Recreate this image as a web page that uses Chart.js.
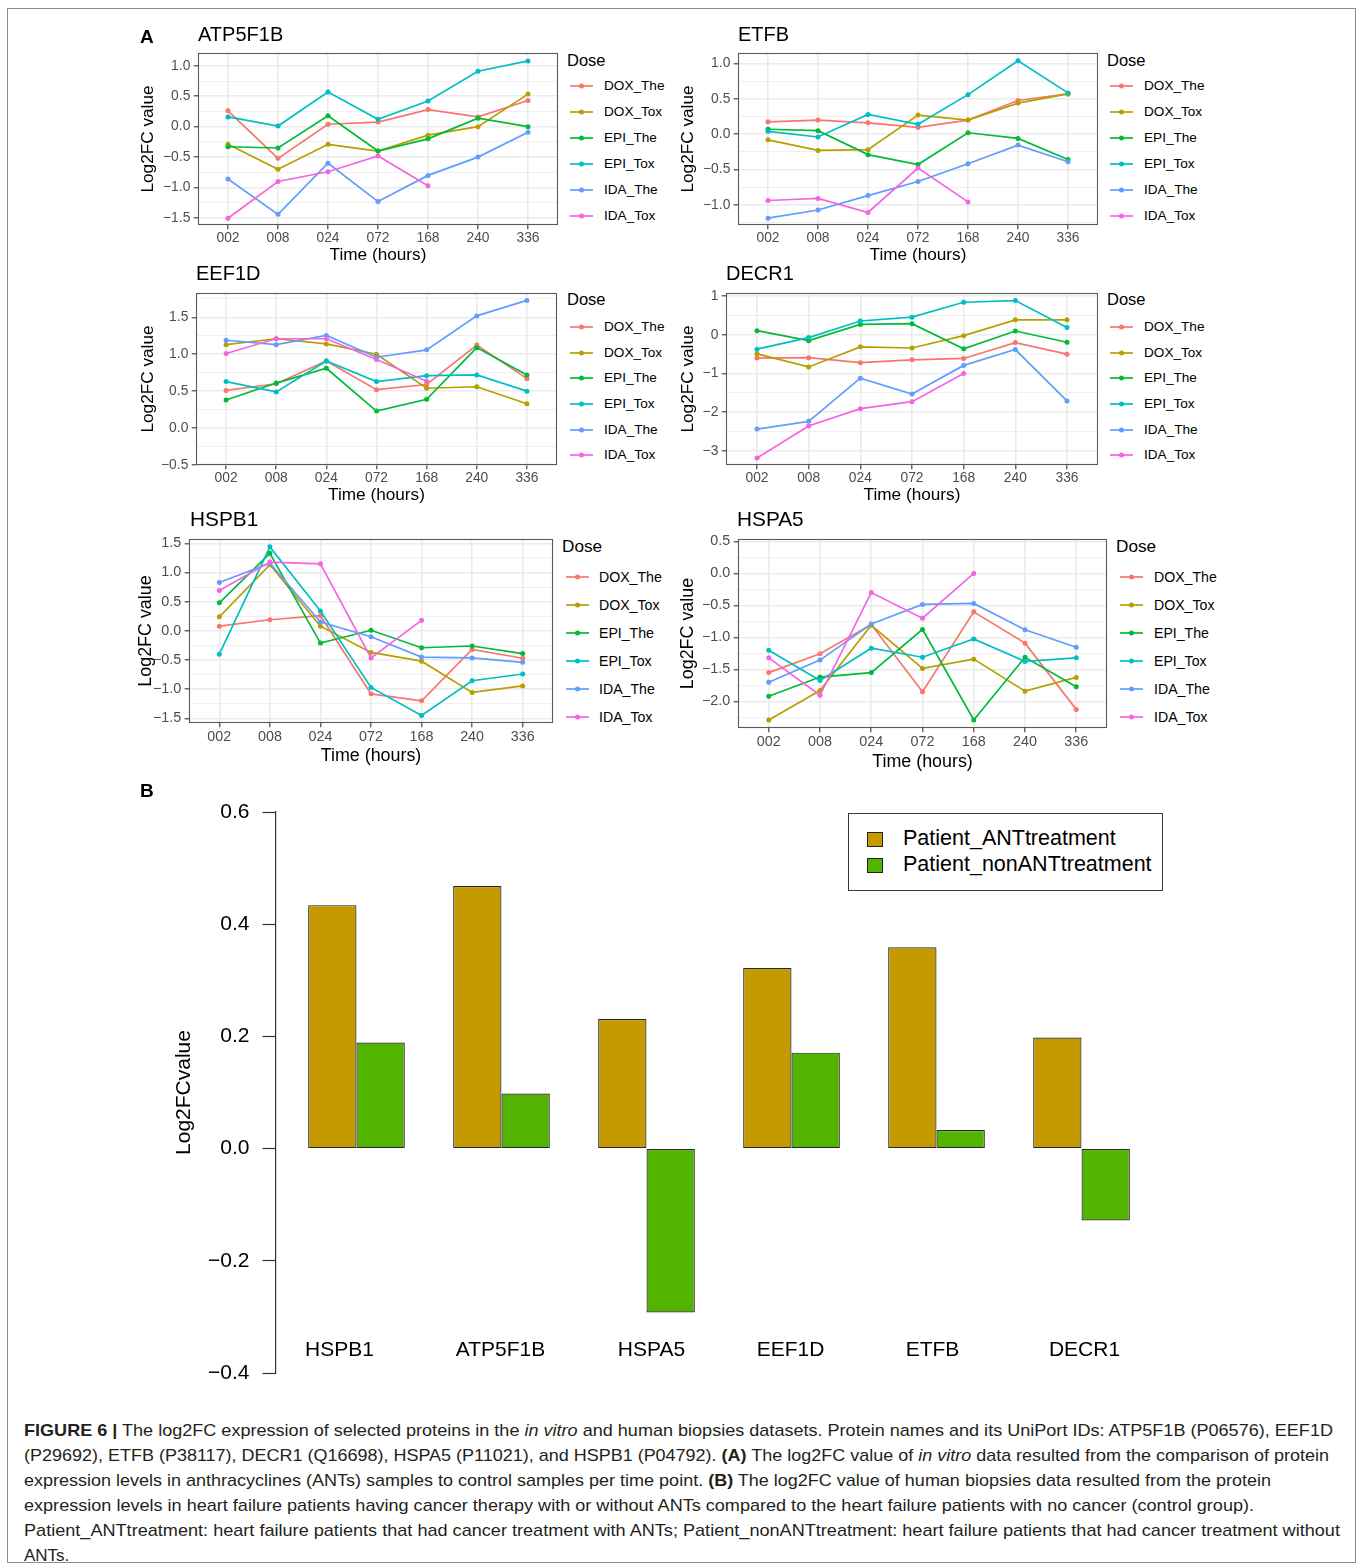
<!DOCTYPE html>
<html>
<head>
<meta charset="utf-8">
<title>Figure 6 – log2FC of selected proteins</title>
<script src="https://cdn.jsdelivr.net/npm/chart.js"></script>
<style>
  html, body { margin: 0; padding: 0; background: #fff; }
  body { position: relative; width: 1360px; height: 1568px; overflow: hidden;
         font-family: "Liberation Sans", Arial, Helvetica, sans-serif; color: #000; }
  #frame { position: absolute; left: 7px; top: 8px; width: 1349px; height: 1555px;
           box-sizing: border-box; border: 1px solid #8c8c8c; }
  canvas { position: absolute; display: block; }
  .t { position: absolute; white-space: nowrap; line-height: 1; }
  .cap { position: absolute; left: 24px; white-space: nowrap; font-size: 17px; line-height: 1;
         color: #231f20; transform-origin: 0 50%; }
  .legB { position: absolute; box-sizing: border-box; border: 1px solid #3a3a3a; background: #fff; }
  .swB { position: absolute; box-sizing: border-box; border: 1px solid #222; }
</style>
</head>
<body>
<div id="frame"></div>
<script>
// ---------- Panel A: in vitro time course ----------
const timeLabels = ['002', '008', '024', '072', '168', '240', '336'];
const doseGroups = ['DOX_The', 'DOX_Tox', 'EPI_The', 'EPI_Tox', 'IDA_The', 'IDA_Tox'];
const doseColors = ['#F8766D', '#B79F00', '#00BA38', '#00BFC4', '#619CFF', '#F564E3'];

// log2FC per dose group (rows follow doseGroups; IDA_Tox ends at 168 h)
const atp5f1bValues = [
  [0.26, -0.52, 0.04, 0.075, 0.28, 0.16, 0.43],
  [-0.29, -0.70, -0.29, -0.40, -0.14, 0.00, 0.535],
  [-0.33, -0.35, 0.18, -0.40, -0.20, 0.14, 0.00],
  [0.16, 0.01, 0.57, 0.12, 0.42, 0.91, 1.08],
  [-0.86, -1.44, -0.60, -1.23, -0.80, -0.50, -0.09],
  [-1.505, -0.90, -0.74, -0.48, -0.97]
];
const etfbValues = [
  [0.175, 0.20, 0.16, 0.095, 0.20, 0.477, 0.57],
  [-0.08, -0.23, -0.22, 0.27, 0.20, 0.44, 0.57],
  [0.07, 0.05, -0.29, -0.43, 0.02, -0.06, -0.36],
  [0.04, -0.04, 0.28, 0.14, 0.56, 1.04, 0.585],
  [-1.19, -1.075, -0.87, -0.67, -0.42, -0.155, -0.39],
  [-0.94, -0.91, -1.11, -0.48, -0.96]
];
const eef1dValues = [
  [0.51, 0.60, 0.91, 0.52, 0.59, 1.125, 0.67],
  [1.13, 1.21, 1.14, 1.00, 0.54, 0.56, 0.33],
  [0.38, 0.61, 0.81, 0.23, 0.39, 1.09, 0.72],
  [0.63, 0.49, 0.91, 0.63, 0.71, 0.72, 0.50],
  [1.19, 1.13, 1.255, 0.96, 1.06, 1.52, 1.73],
  [1.01, 1.21, 1.21, 0.93, 0.635]
];
const decr1Values = [
  [-0.60, -0.59, -0.72, -0.645, -0.61, -0.20, -0.50],
  [-0.49, -0.83, -0.31, -0.34, -0.02, 0.39, 0.39],
  [0.11, -0.15, 0.27, 0.29, -0.36, 0.10, -0.19],
  [-0.37, -0.07, 0.36, 0.46, 0.845, 0.89, 0.19],
  [-2.44, -2.24, -1.12, -1.53, -0.79, -0.38, -1.71],
  [-3.19, -2.36, -1.91, -1.73, -1.00]
];
const hspb1Values = [
  [0.08, 0.19, 0.26, -1.08, -1.20, -0.32, -0.47],
  [0.24, 1.135, 0.08, -0.37, -0.52, -1.055, -0.945],
  [0.48, 1.33, -0.21, 0.01, -0.29, -0.26, -0.39],
  [-0.40, 1.44, 0.34, -0.97, -1.45, -0.855, -0.74],
  [0.83, 1.16, 0.15, -0.10, -0.45, -0.465, -0.54],
  [0.69, 1.18, 1.15, -0.465, 0.18]
];
const hspa5Values = [
  [-1.55, -1.255, -0.80, -1.85, -0.60, -1.09, -2.125],
  [-2.29, -1.83, -0.81, -1.485, -1.34, -1.84, -1.625],
  [-1.92, -1.62, -1.55, -0.875, -2.29, -1.31, -1.77],
  [-1.20, -1.675, -1.17, -1.31, -1.025, -1.375, -1.32],
  [-1.70, -1.355, -0.79, -0.485, -0.47, -0.88, -1.155],
  [-1.32, -1.905, -0.30, -0.70, 0.00]
];

// y-axis breaks of each protein panel
const atp5f1bTicks = [-1.5, -1.0, -0.5, 0, 0.5, 1.0];
const etfbTicks = [-1.0, -0.5, 0, 0.5, 1.0];
const eef1dTicks = [-0.5, 0, 0.5, 1.0, 1.5];
const decr1Ticks = [-3, -2, -1, 0, 1];
const hspb1Ticks = [-1.5, -1.0, -0.5, 0, 0.5, 1.0, 1.5];
const hspa5Ticks = [-2.0, -1.5, -1.0, -0.5, 0, 0.5];

// ---------- Panel B: human biopsies ----------
const biopsyProteins = ['HSPB1', 'ATP5F1B', 'HSPA5', 'EEF1D', 'ETFB', 'DECR1'];
const biopsySeries = ['Patient_ANTtreatment', 'Patient_nonANTtreatment'];
const antTreatment = [0.434, 0.468, 0.231, 0.322, 0.359, 0.198];
const nonAntTreatment = [0.189, 0.098, -0.292, 0.171, 0.033, -0.128];
const biopsyTicks = [-0.4, -0.2, 0, 0.2, 0.4, 0.6];
const biopsyColors = ['#C49A00', '#53B400'];

// ---------- helpers ----------
const FONT = '"Liberation Sans", Arial, Helvetica, sans-serif';
const SVGNS = 'http://www.w3.org/2000/svg';

function fmtTick(v, dec) {
  return (v < 0 ? '\u2212' : '') + Math.abs(v).toFixed(dec);
}

function addText(str, x, cy, size, style) {
  const d = document.createElement('div');
  d.className = 't';
  d.textContent = str;
  d.style.left = x + 'px';
  d.style.top = (cy - 0.49 * size) + 'px';
  d.style.fontSize = size + 'px';
  if (style) Object.assign(d.style, style);
  document.body.appendChild(d);
  return d;
}

function makeCanvas(x, y, w, h) {
  const cv = document.createElement('canvas');
  cv.width = w; cv.height = h;
  cv.style.left = x + 'px'; cv.style.top = y + 'px';
  cv.style.width = w + 'px'; cv.style.height = h + 'px';
  document.body.appendChild(cv);
  return cv;
}

// ggplot-style minor breaks: midpoints of the (extended) major breaks inside the limits
function minorBreaks(major, lo, hi) {
  const step = major[1] - major[0];
  const ext = major.slice();
  if (lo < ext[0]) ext.unshift(ext[0] - step);
  if (hi > ext[ext.length - 1]) ext.push(ext[ext.length - 1] + step);
  const out = [];
  for (let i = 0; i < ext.length - 1; i++) {
    const m = Math.round((ext[i] + ext[i + 1]) / 2 * 1e6) / 1e6;
    if (m >= lo && m <= hi) out.push(m);
  }
  return out;
}

// panel outline drawn on top of the data, as in theme_bw
const panelFrame = {
  id: 'panelFrame',
  afterDatasetsDraw(chart) {
    const a = chart.chartArea, ctx = chart.ctx;
    ctx.save();
    ctx.strokeStyle = '#5a5a5a';
    ctx.lineWidth = 1.1;
    ctx.strokeRect(a.left + 0.5, a.top + 0.5, a.right - a.left - 1, a.bottom - a.top - 1);
    ctx.restore();
  }
};

// ---------- layout of the six time-course panels ----------
const legendRows = {
  r1: [86, 112, 138, 164, 190, 216],
  r2: [327, 353, 378, 404, 430, 455],
  r3: [577, 605, 633, 661, 689, 717]
};
const panelLayout = [
  { name: 'ATP5F1B', values: atp5f1bValues, ticks: atp5f1bTicks, dec: 1, yMin: -1.615, yMax: 1.21,
    box: [198, 53, 558, 225], titleX: 198, titleY: 34, yTitleX: 148, xTickY: 238.5, xTitleY: 255, s: 1,
    legend: { x: 567, y: 60, sx: 570, tx: 604, ys: legendRows.r1 } },
  { name: 'ETFB', values: etfbValues, ticks: etfbTicks, dec: 1, yMin: -1.287, yMax: 1.15,
    box: [738, 53, 1098, 225], titleX: 738, titleY: 34, yTitleX: 688, xTickY: 238.5, xTitleY: 255, s: 1,
    legend: { x: 1107, y: 60, sx: 1110, tx: 1144, ys: legendRows.r1 } },
  { name: 'EEF1D', values: eef1dValues, ticks: eef1dTicks, dec: 1, yMin: -0.5, yMax: 1.83,
    box: [196, 293, 557, 465], titleX: 196, titleY: 273, yTitleX: 148, xTickY: 478, xTitleY: 495, s: 1,
    legend: { x: 567, y: 299, sx: 570, tx: 604, ys: legendRows.r2 } },
  { name: 'DECR1', values: decr1Values, ticks: decr1Ticks, dec: 0, yMin: -3.37, yMax: 1.085,
    box: [726, 293, 1098, 465], titleX: 726, titleY: 273, yTitleX: 688, xTickY: 478, xTitleY: 495, s: 1,
    legend: { x: 1107, y: 299, sx: 1110, tx: 1144, ys: legendRows.r2 } },
  { name: 'HSPB1', values: hspb1Values, ticks: hspb1Ticks, dec: 1, yMin: -1.58, yMax: 1.575,
    box: [189, 539, 553, 723], titleX: 190, titleY: 519, yTitleX: 146, xTickY: 737, xTitleY: 756, s: 1.04,
    legend: { x: 562, y: 546, sx: 566, tx: 599, ys: legendRows.r3 } },
  { name: 'HSPA5', values: hspa5Values, ticks: hspa5Ticks, dec: 1, yMin: -2.416, yMax: 0.5375,
    box: [738, 539, 1107, 728], titleX: 737, titleY: 519, yTitleX: 688, xTickY: 742, xTitleY: 762, s: 1.04,
    legend: { x: 1116, y: 546, sx: 1120, tx: 1154, ys: legendRows.r3 } }
];

function drawPanel(p) {
  const Wy = 64, Hx = 46, padT = 14, padR = 6;
  const [L, T, R, B] = p.box;
  const cx = L - Wy, cy = T - padT;
  const cw = R - L + Wy + padR, ch = B - T + padT + Hx;
  const cv = makeCanvas(cx, cy, cw, ch);

  const tickSize = 13.8 * p.s, axisTitleSize = 17.2 * p.s;
  const tickFont = { family: FONT, size: tickSize };
  const titleFont = { family: FONT, size: axisTitleSize };
  const lh = axisTitleSize * 1.2, tickLh = tickSize * 1.2;
  const major = p.ticks;
  const minor = minorBreaks(major, p.yMin, p.yMax);
  const isMajor = v => major.includes(v);

  new Chart(cv, {
    type: 'line',
    data: {
      datasets: doseGroups.map((g, i) => ({
        label: g,
        data: p.values[i].map((v, k) => ({ x: k, y: v })),
        borderColor: doseColors[i],
        backgroundColor: doseColors[i],
        borderWidth: 1.7,
        pointRadius: 2.5,
        pointBorderWidth: 0,
        pointHoverRadius: 2.5,
        tension: 0,
        fill: false,
        order: doseGroups.length - i
      }))
    },
    options: {
      responsive: false, animation: false, devicePixelRatio: 1, events: [],
      layout: { padding: { left: 0, top: padT, right: padR, bottom: 0 } },
      plugins: { legend: { display: false }, tooltip: { enabled: false } },
      scales: {
        x: {
          type: 'linear', offset: false, min: -0.6, max: timeLabels.length - 0.4,
          afterBuildTicks: ax => { ax.ticks = timeLabels.map((t, k) => ({ value: k })); },
          afterFit: ax => { ax.height = Hx; },
          ticks: { autoSkip: false, maxRotation: 0, callback: v => timeLabels[v],
                   font: tickFont, color: '#4D4D4D', padding: p.xTickY - B - 4.3 - tickLh / 2 },
          grid: { color: '#EBEBEB', lineWidth: 1.6, tickColor: '#333333', tickLength: 4.3, tickWidth: 1.1 },
          border: { display: false },
          title: { display: true, text: 'Time (hours)', font: titleFont, color: '#000',
                   padding: { top: 0, bottom: (B + Hx) - p.xTitleY - lh / 2 } }
        },
        y: {
          type: 'linear', min: p.yMin, max: p.yMax,
          afterBuildTicks: ax => { ax.ticks = major.concat(minor).sort((a, b) => a - b).map(v => ({ value: v })); },
          afterFit: ax => { ax.width = Wy; },
          ticks: { autoSkip: false, callback: v => isMajor(v) ? fmtTick(v, p.dec) : '',
                   font: tickFont, color: '#4D4D4D', padding: 3.4 },
          grid: {
            color: '#EBEBEB',
            lineWidth: c => (c.tick && isMajor(c.tick.value)) ? 1.6 : 0.8,
            tickColor: c => (c.tick && isMajor(c.tick.value)) ? '#333333' : 'rgba(0,0,0,0)',
            tickLength: 4.3, tickWidth: 1.1
          },
          border: { display: false },
          title: { display: true, text: 'Log2FC value', font: titleFont, color: '#000',
                   padding: { top: p.yTitleX - cx - lh / 2, bottom: 0 } }
        }
      }
    },
    plugins: [panelFrame]
  });

  // panel title
  addText(p.name, p.titleX, p.titleY, 20 * p.s);

  // "Dose" legend
  const lg = p.legend;
  addText('Dose', lg.x, lg.y, 16.5 * p.s);
  doseGroups.forEach((g, i) => {
    const y = lg.ys[i];
    const svg = document.createElementNS(SVGNS, 'svg');
    svg.setAttribute('width', 23); svg.setAttribute('height', 8);
    svg.style.position = 'absolute';
    svg.style.left = lg.sx + 'px'; svg.style.top = (y - 4) + 'px';
    const ln = document.createElementNS(SVGNS, 'line');
    ln.setAttribute('x1', 0); ln.setAttribute('x2', 23); ln.setAttribute('y1', 4); ln.setAttribute('y2', 4);
    ln.setAttribute('stroke', doseColors[i]); ln.setAttribute('stroke-width', 1.7);
    const dot = document.createElementNS(SVGNS, 'circle');
    dot.setAttribute('cx', 11.5); dot.setAttribute('cy', 4); dot.setAttribute('r', 2.5);
    dot.setAttribute('fill', doseColors[i]);
    svg.appendChild(ln); svg.appendChild(dot);
    document.body.appendChild(svg);
    addText(g, lg.tx, y, 13.6 * p.s);
  });
}

panelLayout.forEach(drawPanel);
addText('A', 140, 36, 19, { fontWeight: 'bold' });

// ---------- Panel B: grouped bars ----------
const labelNudge = [-17, -1, 5, -1, -4, 3];
const groupLabels = {
  id: 'groupLabels',
  afterDatasetsDraw(chart) {
    const { ctx, chartArea } = chart;
    const xs = chart.scales.x;
    ctx.save();
    ctx.font = '21px ' + FONT;
    ctx.fillStyle = '#000';
    ctx.textAlign = 'center';
    ctx.textBaseline = 'middle';
    biopsyProteins.forEach((name, i) => {
      ctx.fillText(name, xs.getPixelForValue(i) + labelNudge[i], chartArea.bottom - 23);
    });
    ctx.restore();
  }
};

function drawBiopsyChart() {
  const cx = 150, cy = 780, cw = 1030, ch = 625;
  const area = { left: 276, top: 812, right: 1162, bottom: 1373 };
  const cv = makeCanvas(cx, cy, cw, ch);
  const seriesValues = [antTreatment, nonAntTreatment];
  const lhT = 21 * 1.2;
  new Chart(cv, {
    type: 'bar',
    data: {
      datasets: biopsySeries.map((s, j) => ({
        label: s,
        data: biopsyProteins.map((name, i) => ({ x: i, y: seriesValues[j][i] })),
        backgroundColor: biopsyColors[j],
        borderColor: '#262626',
        borderWidth: 1.2,
        borderSkipped: false,
        categoryPercentage: 2 / 3,
        barPercentage: 1
      }))
    },
    options: {
      responsive: false, animation: false, devicePixelRatio: 1, events: [],
      layout: { padding: { left: 0, top: area.top - cy, right: cx + cw - area.right, bottom: cy + ch - area.bottom } },
      plugins: { legend: { display: false }, tooltip: { enabled: false } },
      scales: {
        x: {
          type: 'linear', offset: false, min: -0.555, max: biopsyProteins.length - 1 + 0.555,
          afterBuildTicks: ax => { ax.ticks = biopsyProteins.map((n, i) => ({ value: i })); },
          afterFit: ax => { ax.height = 0; },
          ticks: { display: false }, grid: { display: false, offset: false }, border: { display: false }
        },
        y: {
          type: 'linear', min: -0.4, max: 0.6,
          afterBuildTicks: ax => { ax.ticks = biopsyTicks.map(v => ({ value: v })); },
          afterFit: ax => { ax.width = area.left - cx; },
          ticks: { autoSkip: false, callback: v => fmtTick(v, 1), font: { family: FONT, size: 21 },
                   color: '#000', padding: 13 },
          grid: { drawOnChartArea: false, drawTicks: true, tickLength: 13.5, tickColor: '#333', tickWidth: 1.2 },
          border: { display: true, color: '#333', width: 1.2 },
          title: { display: true, text: 'Log2FCvalue', font: { family: FONT, size: 21 }, color: '#000',
                   padding: { top: 184 - cx - lhT / 2, bottom: 0 } }
        }
      }
    },
    plugins: [groupLabels]
  });

  // legend box
  const box = document.createElement('div');
  box.className = 'legB';
  Object.assign(box.style, { left: '848px', top: '813px', width: '315px', height: '78px' });
  document.body.appendChild(box);
  biopsySeries.forEach((s, j) => {
    const cyItem = 839 + 26 * j;
    const sw = document.createElement('div');
    sw.className = 'swB';
    Object.assign(sw.style, { left: '867px', top: (cyItem - 7.5) + 'px', width: '16px', height: '15px',
                              background: biopsyColors[j] });
    document.body.appendChild(sw);
    addText(s, 903, cyItem, 21.5);
  });
}

drawBiopsyChart();
addText('B', 140, 790, 19, { fontWeight: 'bold' });

// ---------- caption ----------
const captionLines = [
  '<b>FIGURE 6 |</b> The log2FC expression of selected proteins in the <i>in vitro</i> and human biopsies datasets. Protein names and its UniPort IDs: ATP5F1B (P06576), EEF1D',
  '(P29692), ETFB (P38117), DECR1 (Q16698), HSPA5 (P11021), and HSPB1 (P04792). <b>(A)</b> The log2FC value of <i>in vitro</i> data resulted from the comparison of protein',
  'expression levels in anthracyclines (ANTs) samples to control samples per time point. <b>(B)</b> The log2FC value of human biopsies data resulted from the protein',
  'expression levels in heart failure patients having cancer therapy with or without ANTs compared to the heart failure patients with no cancer (control group).',
  'Patient_ANTtreatment: heart failure patients that had cancer treatment with ANTs; Patient_nonANTtreatment: heart failure patients that had cancer treatment without',
  'ANTs.'
];
const captionWidths = [1309, 1305, 1247, 1230, 1316, 0];
captionLines.forEach((html, k) => {
  const d = document.createElement('div');
  d.className = 'cap';
  d.innerHTML = html;
  d.style.top = (1430 + 25 * k - 0.49 * 17) + 'px';
  document.body.appendChild(d);
  if (captionWidths[k]) {
    const w = d.getBoundingClientRect().width;
    d.style.transform = 'scaleX(' + (captionWidths[k] / w).toFixed(4) + ')';
  }
});
</script>
</body>
</html>
